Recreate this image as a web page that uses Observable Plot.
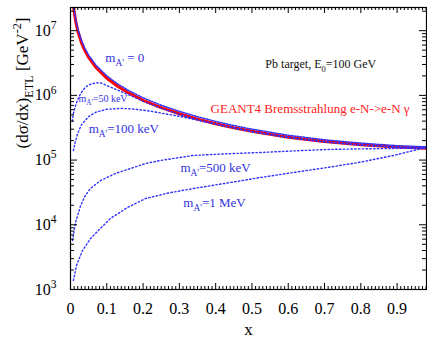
<!DOCTYPE html>
<html>
<head>
<meta charset="utf-8">
<script src="https://cdn.jsdelivr.net/npm/d3@7"></script>
<script src="https://cdn.jsdelivr.net/npm/@observablehq/plot@0.6"></script>
<style>
  html, body { margin: 0; padding: 0; background: white; }
  svg text, svg tspan { font-family: "Liberation Serif", "Times New Roman", "DejaVu Serif", serif !important; }
</style>
</head>
<body>
<div id="chart"></div>
<script>
// ---- data ----
const xRed   = [0.007,0.01,0.015,0.02,0.03,0.04,0.05,0.07,0.1,0.13,0.16,0.2,0.25,0.3,0.35,0.4,0.45,0.5,0.6,0.7,0.8,0.9,0.98];
const geant4 = [2.87e7,2.0e7,1.33e7,9.9e6,6.55e6,4.87e6,3.86e6,2.7e6,1.84e6,1.38e6,1.09e6,8.4e5,6.46e5,5.2e5,4.3e5,3.65e5,3.16e5,2.79e5,2.26e5,1.93e5,1.72e5,1.59e5,1.53e5];
const m0     = [3.05e7,2.14e7,1.43e7,1.07e7,7.1e6,5.27e6,4.18e6,2.93e6,2.0e6,1.5e6,1.19e6,9.15e5,7.05e5,5.66e5,4.68e5,3.96e5,3.42e5,3.0e5,2.42e5,2.06e5,1.83e5,1.67e5,1.6e5];

const x50  = [0.005,0.008,0.014,0.02,0.028,0.04,0.05,0.069,0.085,0.1,0.132,0.17,0.2,0.25,0.3,0.35,0.4,0.5,0.6,0.7,0.8,0.9,0.98];
const m50  = [4.0e5,5.3e5,7.0e5,8.6e5,1.07e6,1.32e6,1.45e6,1.57e6,1.55e6,1.42e6,1.19e6,9.7e5,8.1e5,6.3e5,5.1e5,4.22e5,3.6e5,2.76e5,2.24e5,1.92e5,1.71e5,1.58e5,1.52e5];

const x100 = [0.008,0.014,0.02,0.03,0.05,0.07,0.1,0.14,0.18,0.22,0.26,0.3,0.35,0.4,0.5,0.6,0.7,0.8,0.9,0.98];
const m100 = [1.4e5,2.0e5,2.6e5,3.5e5,4.7e5,5.5e5,6.1e5,6.3e5,6.1e5,5.7e5,5.2e5,4.75e5,4.15e5,3.58e5,2.74e5,2.22e5,1.9e5,1.7e5,1.57e5,1.51e5];

const x500 = [0.0055,0.014,0.028,0.041,0.055,0.083,0.124,0.157,0.207,0.248,0.339,0.43,0.523,0.62,0.708,0.8,0.89,0.98];
const m500 = [5.7e3,1.09e4,1.99e4,2.84e4,3.64e4,4.84e4,6.21e4,7.16e4,8.85e4,9.86e4,1.18e5,1.25e5,1.31e5,1.39e5,1.46e5,1.49e5,1.51e5,1.54e5];

const x1M  = [0.008,0.0165,0.033,0.055,0.077,0.11,0.157,0.207,0.27,0.339,0.43,0.523,0.62,0.708,0.8,0.89,0.98];
const m1M  = [1.38e3,2.35e3,4.0e3,6.1e3,8.2e3,1.25e4,1.85e4,2.55e4,3.1e4,3.64e4,4.4e4,5.38e4,6.5e4,7.69e4,9.3e4,1.18e5,1.57e5];

const xTickLabels = [0,0.1,0.2,0.3,0.4,0.5,0.6,0.7,0.8,0.9];
const yTickLabels = [1e3,1e4,1e5,1e6,1e7];

const annoText  = ["m_{A'} = 0","m_{A'}=50 keV","m_{A'}=100 keV","m_{A'}=500 keV","m_{A'}=1 MeV","Pb target, E_{0}=100 GeV","GEANT4 Bremsstrahlung e-N->e-N γ"];
const annoX     = [0.096,0.022,0.05,0.303,0.311,0.537,0.386];
const annoY     = [3.85e6,8.96e5,3.08e5,7.69e4,2.21e4,3.0e6,6.28e5];
const annoColor = ["#3333dd","#3333dd","#3333dd","#3333dd","#3333dd","#111111","#ff2020"];
const annoSize  = [13,10,13,13,13,12,13];

const yLabel = "(dσ/dx)_{ETL} [GeV^{-2}]";
const xLabel = "x";

const FONT = "'Liberation Serif', 'Times New Roman', 'DejaVu Serif', serif";

// ---- tick positions ----
const xMinor = d3.range(1, 99).map(i => i / 100).filter(v => Math.round(v * 100) % 10 !== 0);
const yMinor = [];
for (let e = 3; e <= 7; e++) for (let k = 2; k <= 9; k++) { const v = k * Math.pow(10, e); if (v <= 2.28e7) yMinor.push(v); }

const toRows = (xs, ys) => xs.map((x, i) => ({x, v: ys[i]}));
const blue = "#3030ff";
const frameW = 427 - 70 - 1, frameH = 339 - 7 - 50;

const chart = Plot.plot({
  width: 427,
  height: 339,
  marginLeft: 70,
  marginRight: 1,
  marginTop: 7,
  marginBottom: 50,
  style: {fontFamily: FONT, fontSize: "15px", background: "white", color: "black"},
  x: {domain: [0, 0.981], label: null},
  y: {type: "log", domain: [1e3, 2.28e7], label: null},
  marks: [
    Plot.line(toRows(xRed, geant4), {x: "x", y: "v", stroke: "#ff0000", strokeWidth: 3, clip: true}),
    Plot.line(toRows(xRed, m0), {x: "x", y: "v", stroke: blue, strokeWidth: 1.5, strokeDasharray: "1.5,1.5", clip: true}),
    Plot.line(toRows(x50, m50), {x: "x", y: "v", stroke: blue, strokeWidth: 1.4, strokeDasharray: "1.4,2.4", clip: true}),
    Plot.line(toRows(x100, m100), {x: "x", y: "v", stroke: blue, strokeWidth: 1.4, strokeDasharray: "1.4,2.4", clip: true}),
    Plot.line(toRows(x500, m500), {x: "x", y: "v", stroke: blue, strokeWidth: 1.4, strokeDasharray: "1.4,2.4", clip: true}),
    Plot.line(toRows(x1M, m1M), {x: "x", y: "v", stroke: blue, strokeWidth: 1.4, strokeDasharray: "1.4,2.4", clip: true}),
    // ticks (inward) on all four sides
    Plot.ruleX(xTickLabels, {x: d => d, insetTop: frameH - 6, stroke: "black"}),
    Plot.ruleX(xTickLabels, {x: d => d, insetBottom: frameH - 6, stroke: "black"}),
    Plot.ruleX(xMinor, {x: d => d, insetTop: frameH - 3, stroke: "black"}),
    Plot.ruleX(xMinor, {x: d => d, insetBottom: frameH - 3, stroke: "black"}),
    Plot.ruleY(yTickLabels, {y: d => d, insetRight: frameW - 7, stroke: "black"}),
    Plot.ruleY(yTickLabels, {y: d => d, insetLeft: frameW - 7, stroke: "black"}),
    Plot.ruleY(yMinor, {y: d => d, insetRight: frameW - 4, stroke: "black"}),
    Plot.ruleY(yMinor, {y: d => d, insetLeft: frameW - 4, stroke: "black"}),
    Plot.frame({stroke: "black", strokeWidth: 1.2}),
    Plot.axisX({ticks: xTickLabels, tickSize: 0, tickPadding: 13, fontSize: 16, fontFamily: FONT,
      tickFormat: d => d === 0 ? "0" : d3.format(".1f")(d), label: null}),
    Plot.axisY({ticks: yTickLabels, tickSize: 0, tickPadding: 14, fontSize: 16, fontFamily: FONT,
      tickFormat: d => "10^{" + Math.round(Math.log10(d)) + "}", label: null}),
    Plot.text(annoText.map((_, i) => i), {
      x: i => annoX[i], y: i => annoY[i], text: i => annoText[i],
      fill: i => annoColor[i], fontSize: i => annoSize[i], textAnchor: "start", fontFamily: FONT
    }),
    Plot.text([yLabel], {frameAnchor: "left", rotate: -90, dx: -48, fontSize: 17, fontFamily: FONT}),
    Plot.text([xLabel], {frameAnchor: "bottom", dy: 45, fontSize: 17, fontFamily: FONT})
  ]
});

document.getElementById("chart").appendChild(chart);
d3.select(chart).selectAll("text").attr("font-family", FONT).style("font-family", FONT);

// render _{...} and ^{...} as real sub/superscript tspans
const ns = "http://www.w3.org/2000/svg";
function richify(el) {
  const s = el.textContent;
  if (!/[_^]\{/.test(s)) return;
  const fs = parseFloat(getComputedStyle(el).fontSize) || 15;
  while (el.firstChild) el.removeChild(el.firstChild);
  const re = /([_^])\{([^}]*)\}/g;
  let last = 0, m, shift = 0;
  const add = (txt, kind) => {
    if (!txt) return;
    const t = document.createElementNS(ns, "tspan");
    const target = kind === "_" ? 0.3 * fs : kind === "^" ? -0.42 * fs : 0;
    const d = target - shift;
    if (d) t.setAttribute("dy", d.toFixed(2));
    if (kind) t.setAttribute("font-size", (0.72 * fs).toFixed(2));
    t.textContent = txt;
    el.appendChild(t);
    shift = target;
  };
  while ((m = re.exec(s))) { add(s.slice(last, m.index), null); add(m[2], m[1]); last = re.lastIndex; }
  add(s.slice(last), null);
}
chart.querySelectorAll("text").forEach(richify);
</script>
</body>
</html>
